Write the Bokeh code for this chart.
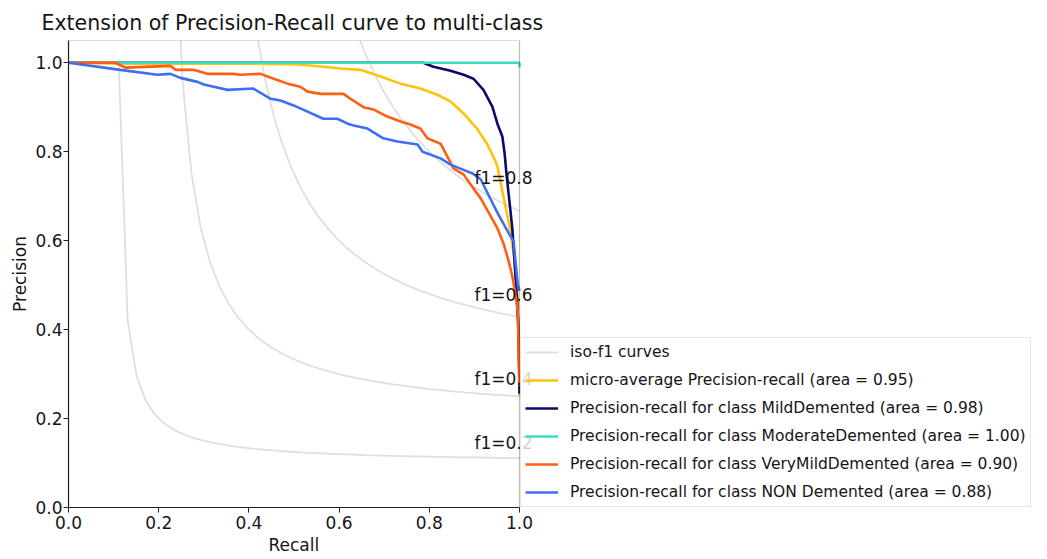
import numpy as np
from bokeh.plotting import figure
from bokeh.models import (ColumnDataSource, Legend, LegendItem, LabelSet, BoxAnnotation,
                          FixedTicker, PrintfTickFormatter, Range1d, Title)
from bokeh.core.properties import value
from bokeh.embed import file_html
from bokeh.resources import INLINE

# ---------------- data ----------------
f_scores = [0.2, 0.4, 0.6, 0.8]

micro_recall = [0.0, 0.115, 0.404, 0.514, 0.603, 0.647, 0.692, 0.736, 0.780, 0.818,
                0.847, 0.876, 0.907, 0.929, 0.942, 0.951, 0.960, 0.971, 0.980, 0.989,
                0.996, 1.0]
micro_precision = [1.0, 0.998, 0.998, 0.996, 0.987, 0.984, 0.969, 0.953, 0.942, 0.928,
                   0.913, 0.886, 0.850, 0.816, 0.789, 0.767, 0.722, 0.666, 0.621, 0.554,
                   0.464, 0.251]

mild_recall = [0.0, 0.787, 0.809, 0.847, 0.876, 0.898, 0.920, 0.940, 0.951, 0.962,
               0.967, 0.971, 0.976, 0.984, 0.989, 0.993, 0.998, 1.0]
mild_precision = [1.0, 1.0, 0.991, 0.982, 0.973, 0.964, 0.939, 0.901, 0.863, 0.834,
                  0.796, 0.751, 0.704, 0.628, 0.554, 0.493, 0.397, 0.256]

moderate_recall = [0.0, 1.0, 1.0]
moderate_precision = [1.0, 1.0, 0.99]

verymild_recall = [0.0, 0.104, 0.126, 0.226, 0.237, 0.277, 0.308, 0.366, 0.381, 0.426,
                   0.455, 0.486, 0.514, 0.530, 0.559, 0.610, 0.625, 0.654, 0.676, 0.707,
                   0.736, 0.758, 0.780, 0.796, 0.825, 0.840, 0.854, 0.876, 0.898, 0.914,
                   0.936, 0.951, 0.965, 0.976, 0.984, 0.989, 0.996, 0.998, 1.0]
verymild_precision = [1.0, 1.0, 0.989, 0.993, 0.984, 0.984, 0.975, 0.975, 0.973, 0.975,
                      0.964, 0.953, 0.946, 0.935, 0.930, 0.930, 0.919, 0.900, 0.895, 0.879,
                      0.868, 0.861, 0.852, 0.830, 0.818, 0.789, 0.762, 0.749, 0.717, 0.695,
                      0.655, 0.628, 0.592, 0.554, 0.520, 0.493, 0.442, 0.374, 0.274]

non_recall = [0.0, 0.115, 0.197, 0.226, 0.248, 0.286, 0.300, 0.322, 0.353, 0.410,
              0.426, 0.448, 0.470, 0.499, 0.530, 0.565, 0.596, 0.619, 0.632, 0.663,
              0.698, 0.729, 0.774, 0.785, 0.825, 0.847, 0.869, 0.896, 0.914, 0.936,
              0.953, 0.976, 0.987, 0.991, 0.996, 1.0]
non_precision = [1.0, 0.984, 0.973, 0.975, 0.966, 0.957, 0.951, 0.946, 0.939, 0.942,
                 0.932, 0.919, 0.915, 0.904, 0.890, 0.874, 0.874, 0.863, 0.859, 0.852,
                 0.830, 0.823, 0.816, 0.800, 0.785, 0.771, 0.762, 0.751, 0.738, 0.693,
                 0.659, 0.617, 0.599, 0.554, 0.502, 0.487]

series_labels = ["micro-average Precision-recall (area = 0.95)",
                 "Precision-recall for class MildDemented (area = 0.98)",
                 "Precision-recall for class ModerateDemented (area = 1.00)",
                 "Precision-recall for class VeryMildDemented (area = 0.90)",
                 "Precision-recall for class NON Demented (area = 0.88)"]
series_colors = ["#ffc20e", "#0b0b6e", "#3fdcc4", "#ff5e14", "#3e6ff2"]

x_ticks = [0.0, 0.2, 0.4, 0.6, 0.8, 1.0]
y_ticks = [0.0, 0.2, 0.4, 0.6, 0.8, 1.0]

FONT = "DejaVu Sans"
TXT = "#151515"

# plotting frame spans the whole width so the outside legend is not clipped;
# the axes box itself covers recall 0..1
X_END = 979 / 451.0

# ---------------- figure ----------------
p = figure(width=1047, height=559, x_range=Range1d(0.0, X_END), y_range=Range1d(0.0, 1.05),
           output_backend="svg", toolbar_location=None,
           min_border_left=68, min_border_right=0, min_border_top=40, min_border_bottom=52,
           title="Extension of Precision-Recall curve to multi-class")
p.title.text_font = FONT
p.title.text_font_size = "20.5px"
p.title.text_font_style = "normal"
p.title.text_color = TXT
p.title.align = "left"
p.title.offset = -27
p.title.standoff = 11

p.xgrid.visible = False
p.ygrid.visible = False
p.outline_line_color = None
p.background_fill_color = "white"
p.border_fill_color = "white"

for ax, ticks in ((p.xaxis[0], x_ticks), (p.yaxis[0], y_ticks)):
    ax.ticker = FixedTicker(ticks=ticks)
    ax.formatter = PrintfTickFormatter(format="%.1f")
    ax.major_label_text_font = FONT
    ax.major_label_text_font_size = "17px"
    ax.major_label_text_color = TXT
    ax.axis_line_color = "#222222"
    ax.axis_line_width = 1.2
    ax.major_tick_line_color = "#222222"
    ax.major_tick_out = 5
    ax.major_tick_in = 0
    ax.minor_tick_line_color = None
p.xaxis[0].bounds = (0.0, 1.0)
p.xaxis[0].major_label_standoff = 3
p.yaxis[0].major_label_standoff = 1

p.yaxis[0].axis_label = "Precision"
p.yaxis[0].axis_label_text_font = FONT
p.yaxis[0].axis_label_text_font_size = "17px"
p.yaxis[0].axis_label_text_font_style = "normal"
p.yaxis[0].axis_label_text_color = TXT
p.yaxis[0].axis_label_standoff = 2

# x axis label, centred under the axes box (recall 0..1)
p.add_layout(Title(text="Recall", align="left", offset=200, standoff=2,
                   text_font=FONT, text_font_size="17px", text_font_style="normal",
                   text_color=TXT), "below")

# axes box (spines)
p.add_layout(BoxAnnotation(left=0.0, right=1.0, bottom=0.0, top=1.05,
                           fill_alpha=0.0, line_color="#222222", line_width=1.2))

# iso-f1 curves
xs_grid = np.linspace(0.01, 1, 50)
iso_renderers = []
lab_x, lab_y, lab_t = [], [], []
for f in f_scores:
    y = f * xs_grid / (2 * xs_grid - f)
    m = y >= 0
    r = p.line(xs_grid[m], y[m], line_color="gray", line_alpha=0.25, line_width=1.8)
    iso_renderers.append(r)
    lab_x.append(0.9)
    lab_y.append(y[45] + 0.02)
    lab_t.append("f1={0:0.1f}".format(f))

curves = [(micro_recall, micro_precision), (mild_recall, mild_precision),
          (moderate_recall, moderate_precision), (verymild_recall, verymild_precision),
          (non_recall, non_precision)]
curve_renderers = []
for (rx, py), col in zip(curves, series_colors):
    curve_renderers.append(p.line(rx, py, line_color=col, line_width=2.6))

labels = LabelSet(x="x", y="y", text="t",
                  source=ColumnDataSource(dict(x=lab_x, y=lab_y, t=lab_t)),
                  text_font=value(FONT), text_font_size=value("17px"), text_color=TXT,
                  text_baseline="alphabetic", text_align="left")
p.add_layout(labels)

items = [LegendItem(label="iso-f1 curves", renderers=[iso_renderers[0]])]
for lab, r in zip(series_labels, curve_renderers):
    items.append(LegendItem(label=lab, renderers=[r]))

legend = Legend(items=items, location=(452, 0), margin=0, padding=4,
                spacing=8, label_height=20, glyph_height=20, glyph_width=33,
                label_standoff=12, label_text_font=FONT, label_text_font_size="15.5px",
                label_text_color=TXT, border_line_color="#cccccc", border_line_width=1,
                background_fill_color="white", background_fill_alpha=0.8)
p.add_layout(legend)

open("out.html", "w").write(file_html(p, INLINE))
